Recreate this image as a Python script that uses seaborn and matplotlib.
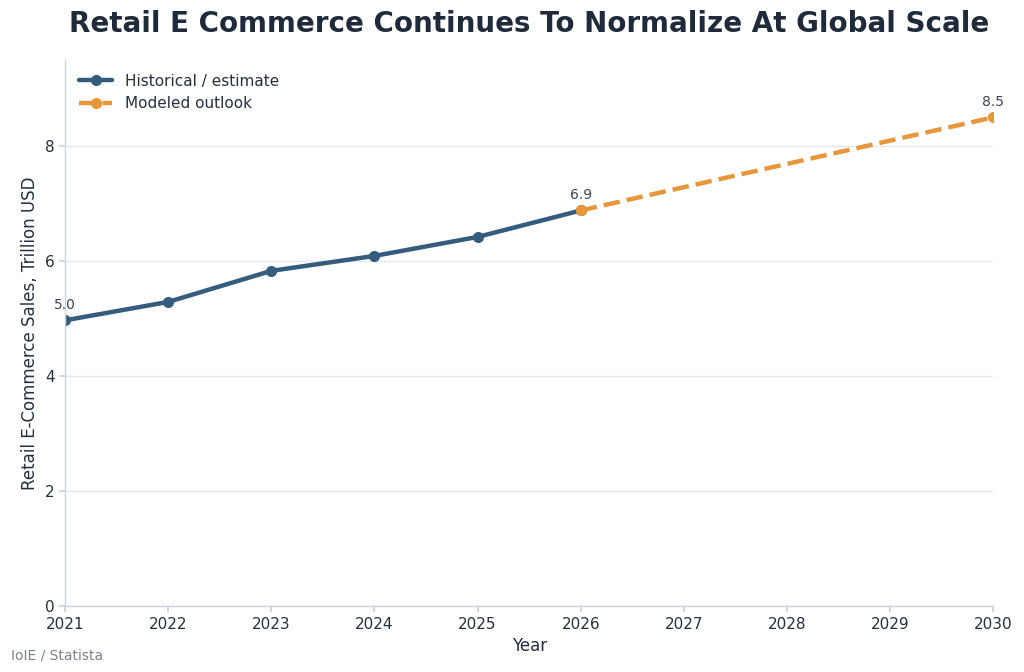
import numpy as np
import pandas as pd
import matplotlib
matplotlib.use("Agg")
import matplotlib.pyplot as plt
import seaborn as sns

# data
hist_years = [2021, 2022, 2023, 2024, 2025, 2026]
hist_sales = [4.97, 5.29, 5.83, 6.09, 6.42, 6.88]
proj_years = [2026, 2030]
proj_sales = [6.88, 8.50]
label_years = [2021, 2026, 2030]
label_vals = [4.97, 6.88, 8.50]

blue = "#355c7d"
orange = "#e8963a"
txt = "#243040"

sns.set_theme(style="white")
plt.rcParams['font.family'] = ['DejaVu Sans']

fig = plt.figure(figsize=(10.24, 6.72), dpi=100)
ax = fig.add_axes([0.0635, 0.098, 0.9065, 0.813])

hist = pd.DataFrame({"year": hist_years, "sales": hist_sales})
proj = pd.DataFrame({"year": proj_years, "sales": proj_sales})

sns.lineplot(data=hist, x="year", y="sales", ax=ax, color=blue, linewidth=3.2,
             marker="o", markersize=8, markeredgewidth=0, label="Historical / estimate")
sns.lineplot(data=proj, x="year", y="sales", ax=ax, color=orange, linewidth=3.2,
             linestyle="--", dashes=(3.6, 1.6), marker="o", markersize=8, markeredgewidth=0,
             label="Modeled outlook")

for yr, v in zip(label_years, label_vals):
    ax.annotate(f"{v:.1f}", (yr, v), xytext=(0, 6), textcoords="offset points",
                ha="center", va="bottom", fontsize=10, color="#3a4555")

ax.set_xlim(2021, 2030)
ax.set_ylim(0, 9.5)
ax.set_xticks(range(2021, 2031))
ax.set_yticks([0, 2, 4, 6, 8])
ax.yaxis.grid(True, color="#e4e7ec", linewidth=1)
ax.xaxis.grid(False)
for s in ["top", "right"]:
    ax.spines[s].set_visible(False)
for s in ["left", "bottom"]:
    ax.spines[s].set_color("#ccd3df")
    ax.spines[s].set_linewidth(1)
ax.tick_params(axis="both", colors="#ccd3df", labelcolor=txt, labelsize=11,
               length=4, direction="out", left=True, bottom=True)

ax.set_xlabel("Year", fontsize=12, color=txt)
ax.set_ylabel("Retail E-Commerce Sales, Trillion USD", fontsize=12, color=txt)

leg = ax.legend(loc="upper left", frameon=False, fontsize=11, handlelength=2.2,
                bbox_to_anchor=(0.0, 1.0))
for t in leg.get_texts():
    t.set_color(txt)

fig.text(0.517, 0.985, "Retail E Commerce Continues To Normalize At Global Scale",
         fontsize=20, fontweight="bold", color="#1f2a3a", ha="center", va="top")
fig.text(0.011, 0.018, "IoIE / Statista", fontsize=10, color="#7a8290")

fig.savefig("out.png", dpi=100)
